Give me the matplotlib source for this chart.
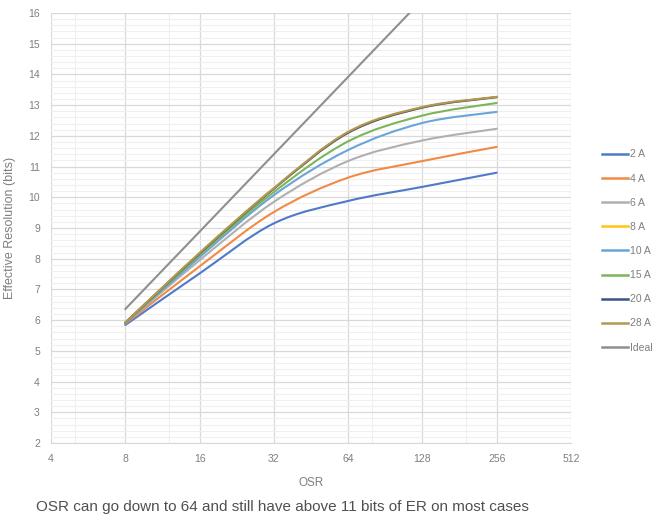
import numpy as np
import matplotlib
matplotlib.use('Agg')
import matplotlib.pyplot as plt
from matplotlib.path import Path
from matplotlib.patches import PathPatch
from matplotlib.lines import Line2D
from matplotlib.ticker import FixedLocator, NullFormatter

plt.rcParams['font.family'] = ['Liberation Sans', 'DejaVu Sans']

osr = [8, 16, 32, 64, 128, 256]
er_2a = [5.84, 7.52, 9.15, 9.88, 10.34, 10.8]
er_4a = [5.88, 7.75, 9.52, 10.64, 11.18, 11.64]
er_6a = [5.90, 7.95, 9.85, 11.18, 11.85, 12.23]
er_8a = [5.92, 8.17, 10.28, 12.1, 12.92, 13.26]
er_10a = [5.90, 8.05, 10.07, 11.54, 12.42, 12.78]
er_15a = [5.91, 8.12, 10.17, 11.82, 12.66, 13.07]
er_20a = [5.92, 8.17, 10.28, 12.1, 12.92, 13.26]
er_28a = [5.92, 8.19, 10.3, 12.13, 12.94, 13.27]
er_ideal = [6.36, 8.88, 11.40, 13.92, 16.44, 18.96]

labels = ['2 A', '4 A', '6 A', '8 A', '10 A', '15 A', '20 A', '28 A', 'Ideal']
series = [er_2a, er_4a, er_6a, er_8a, er_10a, er_15a, er_20a, er_28a, er_ideal]
colors = ['#4E7AC8', '#F08A45', '#B0B0B0', '#FFC514', '#6AA5D9', '#7DB65A',
          '#3A5585', '#B3994E', '#8F8F8F']

x_ticks = [4, 8, 16, 32, 64, 128, 256, 512]
x_minor = [5, 12, 80, 192]
y_ticks = list(range(2, 17))

fig = plt.figure(figsize=(6.55, 5.25), dpi=100)
ax = fig.add_axes([51/655, 1-443/525, 520/655, 430/525])
ax.set_xscale('log', base=2)
ax.set_xlim(4, 512)
ax.set_ylim(2, 16)


def smooth_path(xs, ys, t=1/6.0):
    u = np.log2(np.asarray(xs, float))
    v = np.asarray(ys, float)
    n = len(u)
    verts = [(xs[0], v[0])]
    codes = [Path.MOVETO]
    for i in range(n - 1):
        im1 = max(i - 1, 0)
        ip2 = min(i + 2, n - 1)
        c1u = u[i] + (u[i+1] - u[im1]) * t
        c1v = v[i] + (v[i+1] - v[im1]) * t
        c2u = u[i+1] - (u[ip2] - u[i]) * t
        c2v = v[i+1] - (v[ip2] - v[i]) * t
        verts += [(2**c1u, c1v), (2**c2u, c2v), (xs[i+1], v[i+1])]
        codes += [Path.CURVE4] * 3
    return Path(verts, codes)


handles = []
for lab, ys, c in zip(labels, series, colors):
    p = PathPatch(smooth_path(osr, ys), facecolor='none', edgecolor=c,
                  lw=1.5, capstyle='round', joinstyle='round')
    ax.add_patch(p)
    handles.append(Line2D([0], [0], color=c, lw=1.8))

ax.xaxis.set_major_locator(FixedLocator(x_ticks))
ax.set_xticklabels([str(v) for v in x_ticks])
ax.xaxis.set_minor_locator(FixedLocator(x_minor))
ax.xaxis.set_minor_formatter(NullFormatter())
ax.yaxis.set_major_locator(FixedLocator(y_ticks))
ax.set_yticklabels([str(v) for v in y_ticks])
ax.yaxis.set_minor_locator(FixedLocator(np.arange(2, 16.01, 0.2)))
ax.yaxis.set_minor_formatter(NullFormatter())

ax.grid(True, which='major', color='#D9D9D9', lw=0.9)
ax.grid(True, which='minor', color='#EFEFEF', lw=0.8)
ax.set_axisbelow(True)
for s in ['top', 'right', 'left']:
    ax.spines[s].set_visible(False)
ax.spines['bottom'].set_color('#D9D9D9')
ax.tick_params(which='both', length=0, labelsize=7.5, colors='#7F7F7F', pad=8)

ax.set_xlabel('OSR', fontsize=8.5, color='#7F7F7F', labelpad=9)
ax.set_ylabel('Effective Resolution (bits)', fontsize=9, color='#7F7F7F', labelpad=9)

fig.legend(handles, labels, loc='center left', bbox_to_anchor=(598/655, 1-251/525),
           frameon=False, fontsize=7.5, labelcolor='#7F7F7F', handlelength=2.5,
           handletextpad=0.2, labelspacing=1.36, borderaxespad=0)

fig.text(36/655, 1-507/525, 'OSR can go down to 64 and still have above 11 bits of ER on most cases',
         fontsize=11, color='#505050', va='center', ha='left')

fig.savefig('out.png', dpi=100)
